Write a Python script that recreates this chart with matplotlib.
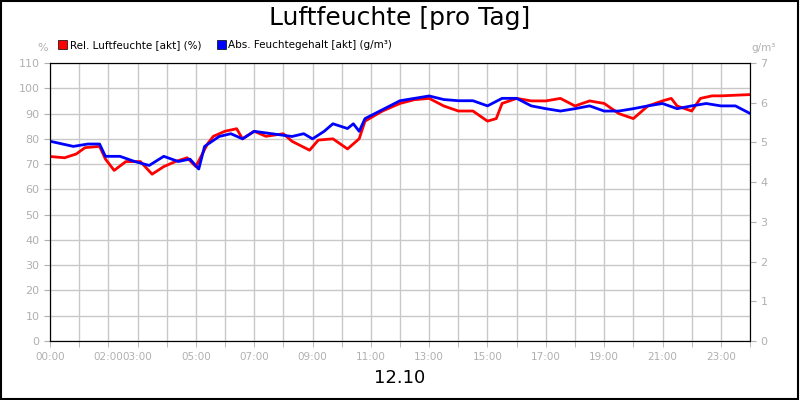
import matplotlib
matplotlib.use("Agg")
import matplotlib.pyplot as plt
from matplotlib.patches import Rectangle

# Stunden / Werte
rel_hours = [0, 0.5, 0.9, 1.2, 1.7, 1.9, 2.2, 2.6, 3.1, 3.5, 3.9, 4.3, 4.7, 5.0, 5.4, 5.6,
             6.0, 6.4, 6.6, 7.0, 7.4, 8.0, 8.3, 8.9, 9.2, 9.7, 10.2, 10.6, 10.8, 11.4,
             12.0, 12.5, 13.0, 13.5, 14.0, 14.5, 15.0, 15.3, 15.5, 16.0, 16.5, 17.0, 17.5,
             18.0, 18.5, 19.0, 19.5, 20.0, 20.5, 21.0, 21.3, 21.5, 22.0, 22.3, 22.7, 23.0, 24.0]
rel_values = [73, 72.5, 74, 76.5, 77, 72, 67.5, 71, 71, 66, 69, 71, 72.5, 69, 78, 81,
              83, 84, 80, 83, 81, 82, 79, 75.5, 79.5, 80, 76, 80, 87, 91,
              94, 95.5, 96, 93, 91, 91, 87, 88, 94, 96, 95, 95, 96,
              93, 95, 94, 90, 88, 93, 95, 96, 93, 91, 96, 97, 97, 97.5]

abs_hours = [0, 0.8, 1.3, 1.7, 1.9, 2.4, 2.9, 3.4, 3.9, 4.4, 4.8, 5.1, 5.3, 5.8, 6.2, 6.6,
             7.0, 7.6, 8.3, 8.7, 9.0, 9.4, 9.7, 10.2, 10.4, 10.6, 10.8, 12.0,
             12.5, 13.0, 13.5, 14.0, 14.5, 15.0, 15.5, 16.0, 16.5, 17.0, 17.5, 18.0, 18.5,
             19.0, 19.5, 20.0, 20.5, 21.0, 21.5, 22.0, 22.5, 23.0, 23.5, 24.0]
abs_values = [5.03, 4.90, 4.96, 4.96, 4.65, 4.65, 4.52, 4.42, 4.65, 4.52, 4.58, 4.33, 4.90, 5.15, 5.22, 5.09,
              5.28, 5.22, 5.15, 5.22, 5.09, 5.28, 5.47, 5.35, 5.47, 5.28, 5.60, 6.05,
              6.11, 6.17, 6.08, 6.05, 6.05, 5.92, 6.11, 6.11, 5.92, 5.85, 5.79, 5.85, 5.92,
              5.79, 5.79, 5.85, 5.92, 5.98, 5.85, 5.92, 5.98, 5.92, 5.92, 5.73]

tick_hours = [0, 2, 3, 5, 7, 9, 11, 13, 15, 17, 19, 21, 23]
tick_labels = ["00:00", "02:00", "03:00", "05:00", "07:00", "09:00", "11:00",
               "13:00", "15:00", "17:00", "19:00", "21:00", "23:00"]

GRAY = "#b0b0b0"

fig = plt.figure(figsize=(8, 4), dpi=100)
fig.add_artist(Rectangle((0.001, 0.002), 0.997, 0.995, transform=fig.transFigure,
                         fill=False, edgecolor="black", linewidth=1.5))
ax = fig.add_axes([0.0625, 0.1475, 0.875, 0.695])
ax2 = ax.twinx()

ax.plot(rel_hours, rel_values, color="#ff0000", linewidth=2)
ax2.plot(abs_hours, abs_values, color="#0000ff", linewidth=2)

ax.set_xlim(0, 24)
ax.set_ylim(0, 110)
ax2.set_ylim(0, 7)
ax.set_yticks(range(0, 111, 10))
ax2.set_yticks(range(0, 8))
ax.xaxis.remove_overlapping_locs = False
ax.set_xticks(tick_hours)
ax.set_xticklabels(tick_labels)
ax.set_xticks(range(0, 25), minor=True)
ax.tick_params(axis="x", which="major", length=0, labelsize=7.5, labelcolor=GRAY, pad=8)
ax.tick_params(axis="x", which="minor", length=4, color=GRAY, direction="out")
ax.tick_params(axis="y", labelsize=8, labelcolor=GRAY, color=GRAY, length=4)
ax2.tick_params(axis="y", labelsize=8, labelcolor=GRAY, color=GRAY, length=4)
ax.grid(True, which="minor", axis="x", color="#c8c8c8", linewidth=1)
ax.grid(True, which="major", axis="y", color="#c8c8c8", linewidth=1)
for s in ax.spines.values():
    s.set_color("black")

fig.text(0.5, 0.955, "Luftfeuchte [pro Tag]", ha="center", va="center", fontsize=18)
fig.text(0.5, 0.055, "12.10", ha="center", va="center", fontsize=13)
fig.text(0.053, 0.88, "%", ha="center", va="center", fontsize=8, color=GRAY)
fig.text(0.955, 0.88, "g/m³", ha="center", va="center", fontsize=7.5, color=GRAY)

fig.add_artist(Rectangle((0.073, 0.877), 0.011, 0.022, transform=fig.transFigure,
                         facecolor="#ff0000", edgecolor="black", linewidth=0.5))
fig.text(0.087, 0.888, "Rel. Luftfeuchte [akt] (%)", va="center", fontsize=7.5)
fig.add_artist(Rectangle((0.271, 0.877), 0.011, 0.022, transform=fig.transFigure,
                         facecolor="#0000ff", edgecolor="black", linewidth=0.5))
fig.text(0.285, 0.888, "Abs. Feuchtegehalt [akt] (g/m³)", va="center", fontsize=7.5)

plt.savefig("out.png", dpi=100)
plt.close(fig)
